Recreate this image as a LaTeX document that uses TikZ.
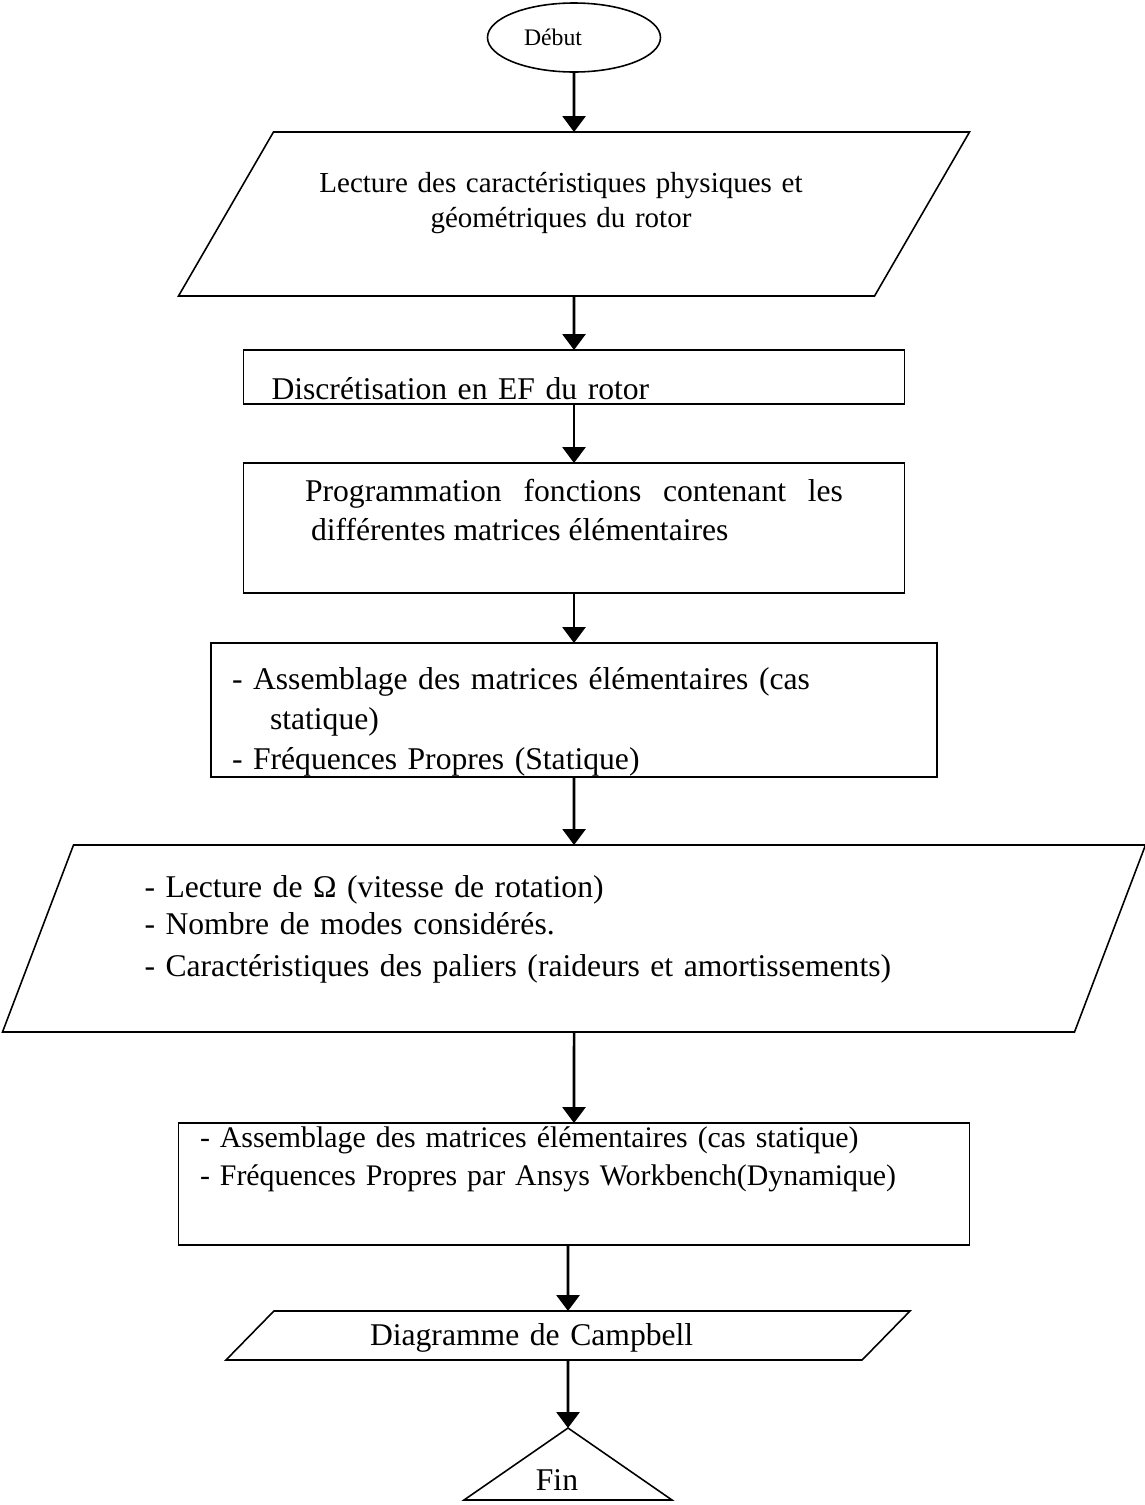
\documentclass[tikz,border=0pt]{standalone}
\usepackage{fontspec}
\setmainfont{Liberation Serif}
\usetikzlibrary{shapes.geometric,arrows.meta}

\begin{document}
\begin{tikzpicture}[
    every node/.style={inner sep=0pt, outer sep=0pt},
    line/.style={line width=0.9pt},
    arr/.style={-{Triangle[length=9pt,width=13pt]}, line width=1.5pt},
    proc/.style={draw, line, rectangle, align=left},
    io/.style={draw, line, trapezium, trapezium stretches body, align=left}
  ]
  \useasboundingbox (0,0) rectangle (22.9,-30.1);

  \node[draw, line, ellipse, minimum width=3.46cm, minimum height=1.38cm,
        text width=2cm, align=left, font=\fontsize{13.5}{16}\selectfont] (debut) at (11.48,-0.75) {Début};

  \node[io, trapezium left angle=42.2, trapezium right angle=137.8,
        minimum width=15.82cm, minimum height=3.28cm, text width=10cm, align=center,
        text height=12pt, text depth=37pt, font=\fontsize{16.5}{20}\selectfont] (lecture) at (11.48,-4.28)
        {\hspace*{-0.52cm}Lecture des caractéristiques physiques et\\\hspace*{-0.52cm}géométriques du rotor};

  \node[proc, minimum width=13.22cm, minimum height=1.08cm, text width=12.1cm,
        text height=26pt, text depth=0pt, font=\fontsize{18}{21}\selectfont] (discr) at (11.48,-7.54)
        {Discrétisation en EF du rotor};

  \node[proc, minimum width=13.22cm, minimum height=2.6cm, text width=10.76cm, align=justify,
        text height=12.5pt, text depth=43pt, font=\fontsize{18}{22.5}\selectfont] (prog) at (11.48,-10.56)
        {Programmation fonctions contenant les\linebreak\hspace*{0.12cm}différentes matrices élémentaires};

  \node[proc, minimum width=14.52cm, minimum height=2.68cm, text width=13.68cm,
        text height=25.6pt, text depth=49.5pt, font=\fontsize{18}{22.8}\selectfont] (assem) at (11.48,-14.2)
        {- Assemblage des matrices élémentaires (cas\\\hspace*{0.76cm}statique)\\- Fréquences Propres (Statique)};

  \node[io, trapezium left angle=62.25, trapezium right angle=117.75,
        minimum width=22.86cm, minimum height=3.74cm, text width=17.18cm,
        text height=14.8pt, text depth=62pt, font=\fontsize{18}{21.6}\selectfont] (lecture2) at (11.48,-18.77)
        {- Lecture de Ω (vitesse de rotation)\\- Nombre de modes considérés.\\[2.3pt]- Caractéristiques des paliers (raideurs et amortissements)};

  \node[proc, minimum width=15.82cm, minimum height=2.44cm, text width=14.96cm,
        text height=11pt, text depth=52.1pt, font=\fontsize{17}{21.6}\selectfont] (assem2) at (11.48,-23.68)
        {- Assemblage des matrices élémentaires (cas statique)\\- Fréquences Propres par Ansys Workbench(Dynamique)};

  \node[io, trapezium left angle=34.3, trapezium right angle=145.7,
        minimum width=13.68cm, minimum height=0.98cm, text width=7.92cm,
        text height=14.7pt, text depth=3.9pt, font=\fontsize{18}{21}\selectfont] (campbell) at (11.36,-26.71)
        {Diagramme de Campbell};

  \coordinate (finTop) at (11.36,-28.56);
  \draw[line] (finTop) -- ++(2.08,-1.44) -- ++(-4.16,0) -- cycle;
  \node[anchor=base, font=\fontsize{18}{21}\selectfont] (fin) at (11.14,-29.8) {Fin};

  \draw[arr] (debut) -- (lecture);
  \draw[arr] (lecture) -- (discr);
  \draw[arr] (discr) -- (prog);
  \draw[arr] (prog) -- (assem);
  \draw[arr] (assem) -- (lecture2);
  \draw[arr] (lecture2) -- (assem2);
  \draw[arr] (campbell |- assem2.south) -- (campbell);
  \draw[arr] (campbell) -- (finTop);
\end{tikzpicture}
\end{document}
